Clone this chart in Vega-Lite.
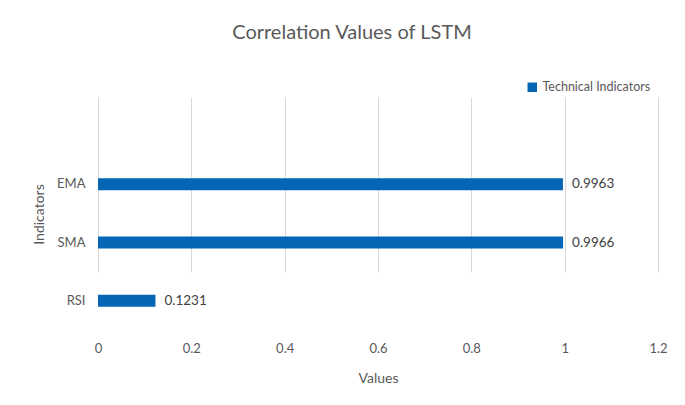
{
  "$schema": "https://vega.github.io/schema/vega-lite/v6.json",
  "width": 560,
  "height": 233,
  "autosize": "none",
  "padding": {"left": 98, "top": 97, "right": 27, "bottom": 75},
  "background": "white",
  "title": {"text": "Correlation Values of LSTM", "font": "Lato", "fontSize": 20, "fontWeight": "normal", "color": "#595959", "anchor": "middle", "offset": 38, "dx": -26},
  "data": {"values": [
    {"Indicator": "EMA", "Value": 0.9963, "Series": "Technical Indicators"},
    {"Indicator": "SMA", "Value": 0.9966, "Series": "Technical Indicators"},
    {"Indicator": "RSI", "Value": 0.1231, "Series": "Technical Indicators"}
  ]},
  "encoding": {
    "y": {"field": "Indicator", "type": "nominal", "sort": ["EMA", "SMA", "RSI"],
      "scale": {"range": [58, 233], "paddingInner": 0, "paddingOuter": 0},
      "axis": {"title": "Indicators", "domain": false, "ticks": false, "labelPadding": 13, "labelFont": "Lato", "labelFontSize": 13, "labelColor": "#595959", "titleFont": "Lato", "titleFontSize": 14, "titleFontWeight": "normal", "titleColor": "#595959", "titlePadding": 10, "titleY": 117}},
    "x": {"field": "Value", "type": "quantitative",
      "scale": {"domain": [0, 1.2], "nice": false},
      "axis": {"title": "Values", "values": [0, 0.2, 0.4, 0.6, 0.8, 1, 1.2], "format": "~g", "domain": false, "ticks": false, "labelFlush": false, "labelPadding": 12, "labelFont": "Lato", "labelFontSize": 13, "labelColor": "#595959", "gridColor": "#d9d9d9", "titleFont": "Lato", "titleFontSize": 14, "titleFontWeight": "normal", "titleColor": "#595959", "titlePadding": 16}}
  },
  "layer": [
    {"mark": {"type": "bar", "size": 12},
     "encoding": {"color": {"field": "Series", "type": "nominal", "scale": {"range": ["#0566B5"]},
       "legend": {"title": null, "orient": "none", "legendX": 428, "legendY": -16, "symbolType": "square", "symbolSize": 90, "labelFont": "Lato", "labelFontSize": 12.5, "labelColor": "#595959"}}}},
    {"mark": {"type": "text", "align": "left", "dx": 9, "font": "Lato", "fontSize": 13.5, "color": "#404040"},
     "encoding": {"text": {"field": "Value", "type": "quantitative", "format": ".4f"}}}
  ],
  "config": {"view": {"stroke": null}}
}
